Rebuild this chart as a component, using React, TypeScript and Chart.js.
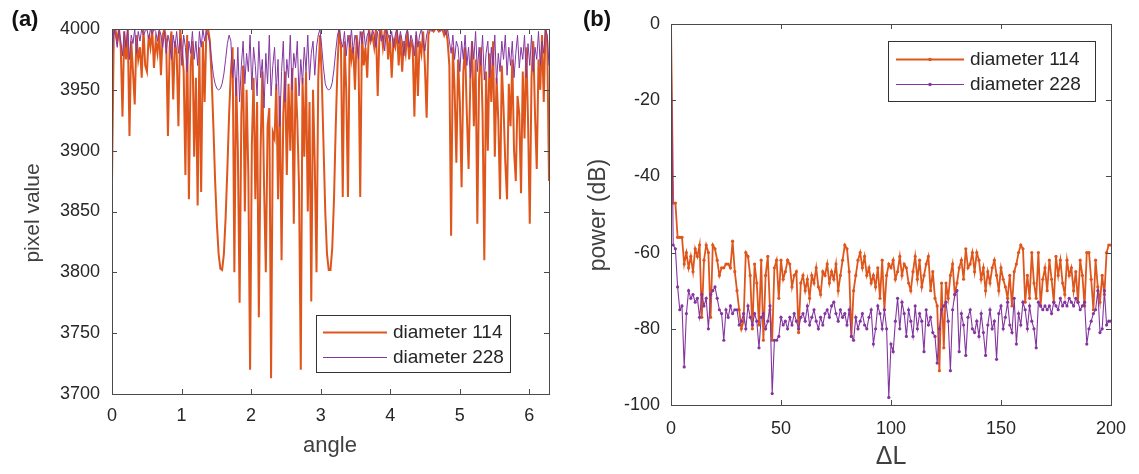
import React, { useEffect, useRef } from 'react';
import { Chart, registerables } from 'chart.js';

Chart.register(...registerables);

// ---------- Panel (a) data ----------
const ANGLE_MAX = 2 * Math.PI;
const ANGLE_TICKS = [0, 1, 2, 3, 4, 5, 6];
const PIXEL_TICKS = [3700, 3750, 3800, 3850, 3900, 3950, 4000];

const PIXEL_114 = [
  3875, 3995, 4000, 3990, 4000, 3985, 3928, 3998, 3975, 4000,
  3912, 3990, 3965, 3938, 3995, 3975, 3985, 3960, 4000, 3970,
  3965, 3995, 3985, 4000, 3968, 3990, 3980, 3998, 3962, 3995,
  4000, 3990, 3912, 3985, 3998, 3942, 3990, 3980, 3920, 4000,
  3985, 3965, 3880, 3995, 3860, 3970, 3990, 3895, 3960, 3855,
  3985, 3866, 3990, 3940, 4000, 4000, 3990, 3960, 3920, 3875,
  3840, 3815, 3803, 3802, 3815, 3845, 3885, 3930, 3965, 3985,
  3800, 3960, 3900, 3775, 3930, 3970, 3850, 3950, 3880, 3720,
  3905, 3960, 3860, 3940, 3763, 3900, 3965, 3870, 3800, 3920,
  3935, 3713, 3915, 3910, 3955, 3860, 3945, 3810, 3930, 3965,
  3880, 3955, 3900, 3968, 3840, 3960, 3925, 3870, 3720, 3960,
  3895, 3965, 3850, 3940, 3776, 3950, 3890, 3800, 3960, 3995,
  3960, 3905, 3850, 3815, 3802, 3802, 3820, 3860, 3920, 3970,
  4000, 3985, 3862, 3990, 3950, 3862, 3995, 3975, 3985, 3950,
  3995, 3980, 3862, 3998, 3970, 3985, 3960, 4000, 3990, 3995,
  3985, 4000, 3945, 3995, 4000, 3985, 3998, 4000, 3975, 3995,
  3960, 3990, 3985, 4000, 3970, 3995, 3965, 3990, 3980, 3998,
  3975, 3990, 3985, 3928, 3995, 3945, 3990, 3980, 3998, 3970,
  3927, 3995, 4000, 4000, 3998, 4000, 4000, 3998, 4000, 4000,
  3995, 4000, 3990, 3970, 3830, 3985, 3950, 3890, 3975, 3940,
  3870, 3965, 3985, 3930, 3885, 3960, 3990, 3920, 3975, 3840,
  3960, 3985, 3930, 3810, 3965, 3900, 3980, 3940, 3990, 3895,
  3960, 3925, 3860, 3970, 3935, 3890, 3860, 3955, 3920, 3975,
  3900, 3875, 3945, 3930, 3865, 3965, 3910, 3985, 3925, 3840,
  3960, 3990, 3930, 3885, 3975, 3950, 3995, 3940, 4000, 3990,
  3875,
];

const PIXEL_228 = [
  3970, 4000, 3995, 3985, 4000, 3990, 3978, 3998, 3985, 4000,
  3975, 3995, 3988, 4000, 3980, 3998, 3990, 4000, 3995, 3998,
  4000, 3992, 4000, 3996, 4000, 3998, 3990, 4000, 3995, 3985,
  3998, 3980, 3995, 3988, 3975, 3995, 3985, 3998, 3980, 3992,
  3970, 3995, 3985, 3965, 3990, 3980, 3998, 3975, 3990, 3970,
  3998, 3985, 4000, 3990, 3998, 3995, 3988, 3975, 3962, 3955,
  3951, 3950, 3951, 3955, 3963, 3975, 3988, 3995, 3990, 3960,
  3975, 3945, 3985, 3940, 3970, 3990, 3955, 3980, 3965, 3995,
  3950, 3985, 3970, 3945, 3990, 3960, 3975, 3935, 3980, 3955,
  3995, 3945, 3970, 3985, 3950, 3975, 3920, 3965, 3990, 3940,
  3975, 3960, 3995, 3950, 3980, 3968, 3990, 3945, 3975, 3955,
  3985, 3965, 3995, 3958, 3980, 3990, 3962, 3985, 3995, 4000,
  3985, 3968, 3955, 3951, 3950, 3951, 3956, 3967, 3982, 3995,
  4000, 3990, 3985, 3998, 3978, 3995, 3985, 4000, 3980, 3995,
  3990, 3975, 3998, 3988, 4000, 3985, 3995, 3998, 3990, 4000,
  3995, 3985, 3998, 4000, 3990, 3995, 3982, 4000, 3995, 3990,
  3998, 3985, 3995, 4000, 3988, 3998, 3990, 3978, 3995, 4000,
  3985, 3995, 3990, 3978, 3998, 3985, 3995, 4000, 3990, 3982,
  3995, 4000, 4000, 3998, 4000, 4000, 4000, 4000, 3998, 4000,
  4000, 3995, 4000, 3990, 3980, 3995, 3975, 3990, 3985, 3965,
  3990, 3975, 3995, 3970, 3985, 3960, 3990, 3975, 3998, 3965,
  3985, 3970, 3995, 3958, 3980, 3990, 3960, 3985, 3970, 3995,
  3955, 3980, 3965, 3990, 3975, 3995, 3962, 3985, 3970, 3990,
  3960, 3980, 3995, 3968, 3985, 3975, 3995, 3960, 3988, 3970,
  3995, 3965, 3985, 3975, 3998, 3970, 3990, 3980, 4000, 3995,
  3970,
];

// ---------- Panel (b) data ----------
const DL_TICKS = [0, 50, 100, 150, 200];
const POWER_TICKS = [-100, -80, -60, -40, -20, 0];

const POWER_114 = [
  0, -47, -47, -56, -56, -56, -63, -60, -64, -61,
  -65, -59, -61, -58, -77, -62, -58, -60, -77, -58,
  -59, -62, -66, -64, -64, -63, -63, -64, -57, -65,
  -70, -75, -80, -78, -60, -61, -66, -80, -63, -68,
  -79, -62, -83, -66, -61, -75, -83, -64, -62, -72,
  -62, -67, -65, -62, -63, -69, -66, -65, -81, -68,
  -66, -70, -67, -72, -66, -68, -64, -69, -71, -65,
  -66, -63, -68, -65, -67, -63, -70, -66, -62, -58,
  -59, -65, -82, -70, -66, -62, -60, -64, -61, -66,
  -64, -68, -66, -69, -64, -72, -62, -75, -66, -63,
  -64, -62, -67, -65, -61, -66, -63, -64, -68, -70,
  -65, -61, -67, -62, -69, -66, -63, -61, -70, -65,
  -72, -74, -91, -68, -85, -68, -72, -66, -63, -71,
  -68, -64, -62, -67, -59, -64, -63, -60, -65, -60,
  -62, -67, -64, -70, -65, -68, -64, -62, -66, -70,
  -64, -67, -69, -72, -66, -74, -65, -63, -60, -58,
  -59, -73, -66, -72, -60, -68, -72, -60, -74, -67,
  -64, -70, -62, -67, -73, -61, -66, -62, -68, -71,
  -62, -66, -64, -70, -65, -73, -62, -66, -74, -60,
  -60, -67, -75, -62, -69, -73, -66, -71, -60, -58,
  -58,
];

const POWER_228 = [
  0, -58, -59, -69, -75, -74, -90, -76, -70, -72,
  -71, -73, -72, -77, -71, -74, -72, -80, -71, -70,
  -69, -72, -75, -76, -83, -75, -77, -74, -76, -75,
  -75, -79, -78, -76, -80, -74, -77, -79, -76, -78,
  -85, -77, -76, -80, -78, -74, -97, -83, -83, -82,
  -77, -79, -78, -80, -77, -79, -76, -78, -80, -77,
  -76, -78, -74, -79, -77, -75, -78, -80, -77, -79,
  -76, -75, -77, -74, -73, -76, -78, -75, -77, -76,
  -79, -75, -82, -83, -77, -80, -78, -76, -79, -80,
  -77, -75, -84, -80, -74, -76, -80, -75, -80, -98,
  -84, -86, -78, -72, -80, -73, -76, -82, -75, -78,
  -82, -74, -80, -76, -78, -86, -75, -79, -77, -81,
  -82, -89, -80, -75, -74, -73, -78, -91, -75, -71,
  -70, -86, -76, -79, -87, -77, -75, -80, -81, -78,
  -82, -76, -81, -87, -79, -75, -80, -78, -88, -76,
  -74, -80, -77, -73, -79, -81, -72, -84, -76, -79,
  -73, -75, -80, -74, -78, -80, -85, -73, -74, -75,
  -74, -75, -74, -76, -73, -74, -75, -72, -74, -73,
  -74, -72, -73, -74, -72, -73, -75, -74, -73, -84,
  -80, -78, -76, -75, -70, -81, -80, -70, -79, -78,
  -78,
];

const SERIES_LABELS = ['diameter 114', 'diameter 228'];

// ---------- styles ----------
const ORANGE = '#DF561C';
const PURPLE = '#8436A0';
const AXIS_COLOR = '#4a4a4a';
const TEXT_COLOR = '#262626';
const FONT_FAMILY = '"Liberation Sans", Arial, sans-serif';
const W = 1139;
const H = 474;

type PanelCfg = {
  tag: string;
  tagPos: [number, number];
  xTitle: string;
  xTitlePos: [number, number];
  xTitleSize: number;
  yTitle: string;
  yTitlePos: [number, number];
  yTitleSize: number;
  legendBox: [number, number, number, number];
  legendLine: [number, number];
  legendText: number;
  legendRows: [number, number];
  markers: boolean;
  lineWidths: [number, number];
};

function decorPlugin(cfg: PanelCfg) {
  return {
    id: 'decor',
    afterDatasetsDraw(chart: any) {
      const { ctx, chartArea: a, scales } = chart;
      const x = scales.x;
      const y = scales.y;
      const TL = 5;
      ctx.save();
      ctx.strokeStyle = AXIS_COLOR;
      ctx.lineWidth = 1;
      ctx.beginPath();
      for (const t of x.ticks) {
        const px = Math.round(x.getPixelForValue(t.value)) + 0.5;
        ctx.moveTo(px, a.bottom);
        ctx.lineTo(px, a.bottom - TL);
        ctx.moveTo(px, a.top);
        ctx.lineTo(px, a.top + TL);
      }
      for (const t of y.ticks) {
        const py = Math.round(y.getPixelForValue(t.value)) + 0.5;
        ctx.moveTo(a.left, py);
        ctx.lineTo(a.left + TL, py);
        ctx.moveTo(a.right, py);
        ctx.lineTo(a.right - TL, py);
      }
      ctx.stroke();
      ctx.strokeRect(
        Math.round(a.left) + 0.5,
        Math.round(a.top) + 0.5,
        Math.round(a.right) - Math.round(a.left),
        Math.round(a.bottom) - Math.round(a.top)
      );

      // legend
      const [lx0, ly0, lx1, ly1] = cfg.legendBox;
      ctx.fillStyle = '#ffffff';
      ctx.fillRect(lx0, ly0, lx1 - lx0, ly1 - ly0);
      ctx.strokeStyle = '#333333';
      ctx.lineWidth = 1;
      ctx.strokeRect(lx0 + 0.5, ly0 + 0.5, lx1 - lx0, ly1 - ly0);
      const colors = [ORANGE, PURPLE];
      ctx.font = `19px ${FONT_FAMILY}`;
      ctx.textBaseline = 'middle';
      ctx.textAlign = 'left';
      for (let i = 0; i < 2; i++) {
        const ry = cfg.legendRows[i];
        ctx.strokeStyle = colors[i];
        ctx.lineWidth = cfg.lineWidths[i];
        ctx.beginPath();
        ctx.moveTo(cfg.legendLine[0], ry + 0.5);
        ctx.lineTo(cfg.legendLine[1], ry + 0.5);
        ctx.stroke();
        if (cfg.markers) {
          ctx.fillStyle = colors[i];
          ctx.beginPath();
          ctx.arc((cfg.legendLine[0] + cfg.legendLine[1]) / 2, ry + 0.5, 1.8, 0, Math.PI * 2);
          ctx.fill();
        }
        ctx.fillStyle = TEXT_COLOR;
        ctx.fillText(SERIES_LABELS[i], cfg.legendText, ry + 1);
      }
      ctx.restore();
    },
    afterDraw(chart: any) {
      const { ctx } = chart;
      ctx.save();
      ctx.fillStyle = '#404040';
      ctx.textAlign = 'center';
      ctx.textBaseline = 'middle';
      ctx.font = `${cfg.xTitleSize}px ${FONT_FAMILY}`;
      ctx.fillText(cfg.xTitle, cfg.xTitlePos[0], cfg.xTitlePos[1]);
      ctx.save();
      ctx.translate(cfg.yTitlePos[0], cfg.yTitlePos[1]);
      ctx.rotate(-Math.PI / 2);
      ctx.font = `${cfg.yTitleSize}px ${FONT_FAMILY}`;
      ctx.fillText(cfg.yTitle, 0, 0);
      ctx.restore();
      ctx.fillStyle = '#111111';
      ctx.font = `bold 22px ${FONT_FAMILY}`;
      ctx.fillText(cfg.tag, cfg.tagPos[0], cfg.tagPos[1]);
      ctx.restore();
    },
  };
}

function makeScales(
  xMin: number, xMax: number, xTicks: number[], xHeight: number, xPad: number,
  yMin: number, yMax: number, yTicks: number[], yWidth: number, yPad: number
) {
  const tickFont = { family: FONT_FAMILY, size: 18 };
  return {
    x: {
      type: 'linear',
      min: xMin,
      max: xMax,
      afterBuildTicks: (s: any) => { s.ticks = xTicks.map((v) => ({ value: v })); },
      afterFit: (s: any) => { s.height = xHeight; },
      grid: { display: false, drawTicks: false },
      border: { display: false },
      ticks: { font: tickFont, color: TEXT_COLOR, padding: xPad, maxRotation: 0, autoSkip: false, callback: (v: any) => String(v) },
    },
    y: {
      type: 'linear',
      min: yMin,
      max: yMax,
      afterBuildTicks: (s: any) => { s.ticks = yTicks.map((v) => ({ value: v })); },
      afterFit: (s: any) => { s.width = yWidth; },
      grid: { display: false, drawTicks: false },
      border: { display: false },
      ticks: { font: tickFont, color: TEXT_COLOR, padding: yPad, autoSkip: false, callback: (v: any) => String(v) },
    },
  };
}

export default function App() {
  const refA = useRef<HTMLCanvasElement>(null);
  const refB = useRef<HTMLCanvasElement>(null);

  useEffect(() => {
    const angles = PIXEL_114.map((_, i) => (i * ANGLE_MAX) / (PIXEL_114.length - 1));
    const deltaL = POWER_114.map((_, i) => i);

    const cfgA: PanelCfg = {
      tag: '(a)',
      tagPos: [25, 20],
      xTitle: 'angle',
      xTitlePos: [330, 446],
      xTitleSize: 22,
      yTitle: 'pixel value',
      yTitlePos: [33, 213],
      yTitleSize: 21,
      legendBox: [316, 315, 510, 372],
      legendLine: [323, 387],
      legendText: 393,
      legendRows: [332, 357],
      markers: false,
      lineWidths: [2, 1],
    };
    const cfgB: PanelCfg = {
      tag: '(b)',
      tagPos: [37, 20],
      xTitle: '\u0394L',
      xTitlePos: [331, 457],
      xTitleSize: 25,
      yTitle: 'power (dB)',
      yTitlePos: [39, 215],
      yTitleSize: 23,
      legendBox: [328, 41, 535, 101],
      legendLine: [336, 404],
      legendText: 410,
      legendRows: [59, 84],
      markers: true,
      lineWidths: [1.8, 1],
    };

    const chartA = new Chart(refA.current as HTMLCanvasElement, {
      type: 'line',
      data: {
        datasets: [
          {
            label: SERIES_LABELS[0],
            data: angles.map((a, i) => ({ x: a, y: PIXEL_114[i] })),
            borderColor: ORANGE,
            borderWidth: 2,
            pointRadius: 0,
            tension: 0,
            order: 1,
          },
          {
            label: SERIES_LABELS[1],
            data: angles.map((a, i) => ({ x: a, y: PIXEL_228[i] })),
            borderColor: PURPLE,
            borderWidth: 1,
            pointRadius: 0,
            tension: 0,
            order: 0,
          },
        ],
      },
      options: {
        animation: false,
        responsive: false,
        devicePixelRatio: 1,
        layout: { padding: { left: 0, right: 11, top: 29, bottom: 0 } },
        plugins: { legend: { display: false }, tooltip: { enabled: false } },
        scales: makeScales(0, ANGLE_MAX, ANGLE_TICKS, 80, 11, 3700, 4000, PIXEL_TICKS, 112, 12) as any,
      },
      plugins: [decorPlugin(cfgA)],
    } as any);

    const chartB = new Chart(refB.current as HTMLCanvasElement, {
      type: 'line',
      data: {
        datasets: [
          {
            label: SERIES_LABELS[0],
            data: deltaL.map((d, i) => ({ x: d, y: POWER_114[i] })),
            borderColor: ORANGE,
            backgroundColor: ORANGE,
            borderWidth: 1.8,
            pointRadius: 1.6,
            pointBorderWidth: 0,
            pointBackgroundColor: ORANGE,
            tension: 0,
            order: 1,
          },
          {
            label: SERIES_LABELS[1],
            data: deltaL.map((d, i) => ({ x: d, y: POWER_228[i] })),
            borderColor: PURPLE,
            backgroundColor: PURPLE,
            borderWidth: 1.1,
            pointRadius: 1.6,
            pointBorderWidth: 0,
            pointBackgroundColor: PURPLE,
            tension: 0,
            order: 0,
          },
        ],
      },
      options: {
        animation: false,
        responsive: false,
        devicePixelRatio: 1,
        layout: { padding: { left: 0, right: 28, top: 24, bottom: 0 } },
        plugins: { legend: { display: false }, tooltip: { enabled: false } },
        scales: makeScales(0, 200, DL_TICKS, 69, 13, -100, 0, POWER_TICKS, 111, 11) as any,
      },
      plugins: [decorPlugin(cfgB)],
    } as any);

    return () => {
      chartA.destroy();
      chartB.destroy();
    };
  }, []);

  return (
    <div style={{ position: 'fixed', left: 0, top: 0, width: W, height: H, background: '#ffffff' }}>
      <canvas ref={refA} width={560} height={H} style={{ position: 'absolute', left: 0, top: 0, width: 560, height: H }} />
      <canvas ref={refB} width={579} height={H} style={{ position: 'absolute', left: 560, top: 0, width: 579, height: H }} />
    </div>
  );
}
